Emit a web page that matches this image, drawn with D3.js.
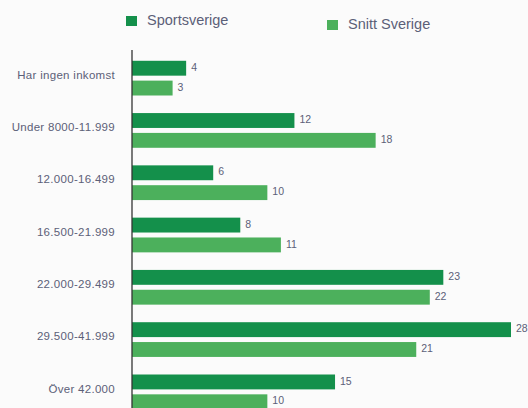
<!DOCTYPE html>
<html>
  <head>
    <meta charset="utf-8">
    <title>Inkomst</title>
    <script src="https://d3js.org/d3.v7.min.js"></script>
    <style>
      body { margin: 0; background: #fbfbfb; }
      svg { display: block; font-family: "Liberation Sans", Arial, sans-serif; }
      .value { fill: #5b6078; font-size: 10.5px; }
      .legend text { fill: #5b6078; font-size: 14.5px; }
    </style>
  </head>
  <body>
    <svg id="chart" width="528" height="408"></svg>
    <script>
      // data
      var categories = ["Har ingen inkomst", "Under 8000-11.999", "12.000-16.499", "16.500-21.999",
        "22.000-29.499", "29.500-41.999", "Över 42.000"];
      var seriesNames = ["Sportsverige", "Snitt Sverige"];
      var sportsverige = [4, 12, 6, 8, 23, 28, 15];
      var snittSverige = [3, 18, 10, 11, 22, 21, 10];
      var colours = ["#14904b", "#4cb05c"];

      var rows = categories.map(function(c, i) {
        return { cat: c, values: [sportsverige[i], snittSverige[i]] };
      });

      var svg = d3.select("#chart");

      var x = d3.scaleLinear()
        .domain([0, 28])
        .range([132, 511]);

      var y = d3.scaleBand()
        .domain(categories)
        .range([52, 418])
        .paddingInner(0.336)
        .paddingOuter(0.168);

      var ySub = d3.scaleBand()
        .domain(d3.range(seriesNames.length))
        .range([0, y.bandwidth()])
        .paddingInner(0.25);

      // groups of bars
      var groups = svg.selectAll(".group")
          .data(rows)
        .enter().append("g")
          .attr("class", "group")
          .attr("transform", function(d) { return "translate(0," + y(d.cat) + ")"; });

      groups.selectAll("rect")
          .data(function(d) { return d.values; })
        .enter().append("rect")
          .attr("x", x(0))
          .attr("y", function(d, i) { return ySub(i); })
          .attr("width", function(d) { return x(d) - x(0); })
          .attr("height", ySub.bandwidth())
          .attr("fill", function(d, i) { return colours[i]; });

      groups.selectAll(".value")
          .data(function(d) { return d.values; })
        .enter().append("text")
          .attr("class", "value")
          .attr("x", function(d) { return x(d) + 5; })
          .attr("y", function(d, i) { return ySub(i) + ySub.bandwidth() / 2 - 1; })
          .attr("dy", "0.35em")
          .text(function(d) { return d; });

      // category axis
      var axis = d3.axisLeft(y)
        .tickSize(0)
        .tickPadding(17);
      var axisGroup = svg.append("g")
        .attr("class", "cat")
        .attr("transform", "translate(" + x(0) + ",0)")
        .call(axis);
      axisGroup.select(".domain")
        .attr("stroke", "#333")
        .attr("stroke-width", 1.3)
        .attr("d", "M0,50V408");
      axisGroup.selectAll(".tick text")
        .attr("y", -3)
        .style("font-family", "'Liberation Sans', Arial, sans-serif")
        .style("font-size", "11.5px")
        .style("letter-spacing", "0.3px")
        .attr("fill", "#5b6078");

      // legend
      var legendPos = [[126, 16], [327, 20]];
      var legend = svg.selectAll(".legend")
          .data(seriesNames)
        .enter().append("g")
          .attr("class", "legend")
          .attr("transform", function(d, i) { return "translate(" + legendPos[i][0] + "," + legendPos[i][1] + ")"; });
      legend.append("rect")
        .attr("width", 11)
        .attr("height", 10)
        .attr("fill", function(d, i) { return colours[i]; });
      legend.append("text")
        .attr("x", 21)
        .attr("y", 9)
        .text(function(d) { return d; });
    </script>
  </body>
</html>
